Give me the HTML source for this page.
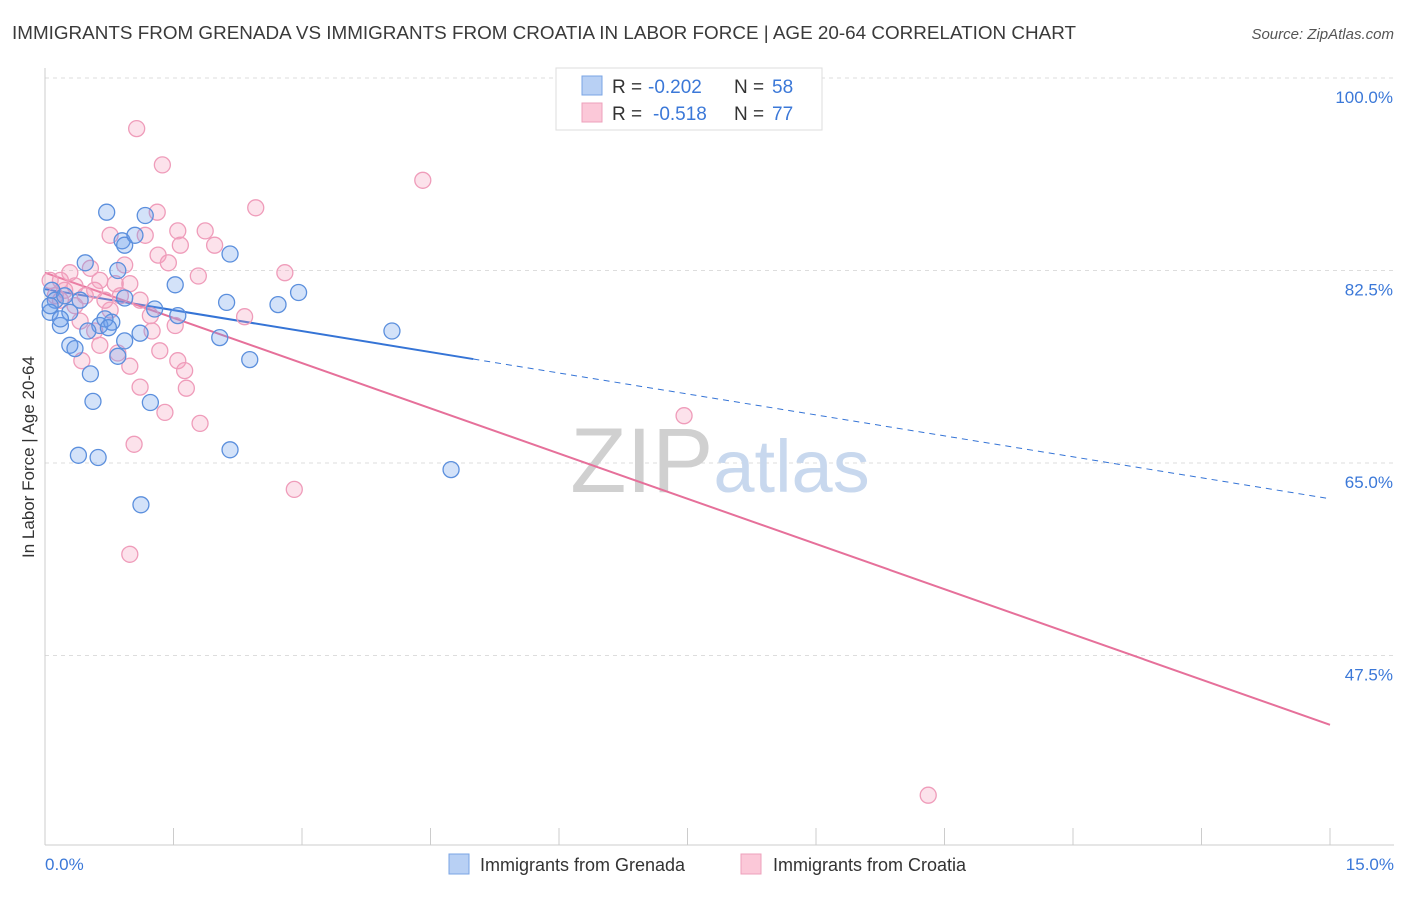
<!DOCTYPE html>
<html><head><meta charset="utf-8"><style>
body{margin:0;background:#fff;font-family:"Liberation Sans",sans-serif;}
svg text{font-family:"Liberation Sans",sans-serif;}
</style></head><body>
<svg id="chart" width="1406" height="892" xmlns="http://www.w3.org/2000/svg">
<text x="12" y="39" font-size="18.5" fill="#3a3a3a" textLength="1064" lengthAdjust="spacingAndGlyphs">IMMIGRANTS FROM GRENADA VS IMMIGRANTS FROM CROATIA IN LABOR FORCE | AGE 20-64 CORRELATION CHART</text>
<text x="1394" y="39" font-size="15" fill="#555" font-style="italic" text-anchor="end">Source: ZipAtlas.com</text>
<g id="grid"></g>
<text x="720" y="492" font-size="92" text-anchor="middle" fill="#d8d8d8" font-family="Liberation Serif"><tspan fill="#d0d0d0">ZIP</tspan><tspan fill="#c8d8ee" font-family="Liberation Sans" font-size="74">atlas</tspan></text>
<line x1="45" y1="68" x2="45" y2="845" stroke="#ccc"/>
<line x1="45" y1="845" x2="1394" y2="845" stroke="#ccc"/>
<g id="ticks"></g>
<g id="lines"></g>
<g id="points"></g>
<text transform="translate(34,457) rotate(-90)" font-size="17" fill="#333" text-anchor="middle">In Labor Force | Age 20-64</text>
<text x="45" y="870" font-size="17" fill="#3b78d8">0.0%</text>
<text x="1394" y="870" font-size="17" fill="#3b78d8" text-anchor="end">15.0%</text>
<g>
<rect x="556" y="68" width="266" height="62" fill="#fff" stroke="#ddd"/>
<rect x="582" y="76" width="20" height="19" fill="#b8d0f4" stroke="#7aa4e4"/>
<rect x="582" y="103" width="20" height="19" fill="#fbc8d8" stroke="#eea0bb"/>
<text x="612" y="93" font-size="19" fill="#333">R =</text>
<text x="648" y="93" font-size="19" fill="#3b78d8">-0.202</text>
<text x="734" y="93" font-size="19" fill="#333">N =</text>
<text x="772" y="93" font-size="19" fill="#3b78d8">58</text>
<text x="612" y="120" font-size="19" fill="#333">R =</text>
<text x="653" y="120" font-size="19" fill="#3b78d8">-0.518</text>
<text x="734" y="120" font-size="19" fill="#333">N =</text>
<text x="772" y="120" font-size="19" fill="#3b78d8">77</text>
</g>
<g>
<rect x="449" y="854" width="20" height="20" fill="#b8d0f4" stroke="#7aa4e4"/>
<text x="480" y="871" font-size="18" fill="#333">Immigrants from Grenada</text>
<rect x="741" y="854" width="20" height="20" fill="#fbc8d8" stroke="#eea0bb"/>
<text x="773" y="871" font-size="18" fill="#333">Immigrants from Croatia</text>
</g>
</svg>
<script>
const yTicks=[100,82.5,65,47.5];
const grenadaX=[0.72,1.17,0.90,0.93,1.05,2.16,0.47,0.85,1.52,0.08,0.12,0.41,0.93,1.28,2.12,2.72,2.96,0.06,0.29,0.18,0.64,0.78,1.11,1.55,2.04,4.05,0.29,0.35,0.85,0.93,2.39,0.53,0.56,1.23,2.16,0.39,0.62,4.74,1.12,0.06,0.23,0.18,0.50,0.70,0.74];
const grenadaY=[87.8,87.5,85.2,84.8,85.7,84.0,83.2,82.5,81.2,80.7,79.8,79.8,80.0,79.0,79.6,79.4,80.5,78.7,78.7,77.5,77.5,77.8,76.8,78.4,76.4,77.0,75.7,75.4,74.7,76.1,74.4,73.1,70.6,70.5,66.2,65.7,65.5,64.4,61.2,79.3,80.2,78.1,77.0,78.1,77.3];
const croatiaX=[1.07,1.37,4.41,2.46,1.31,1.17,0.76,1.55,1.87,1.98,1.58,1.32,1.44,0.93,1.79,2.80,0.53,0.29,0.18,0.82,0.99,0.64,1.11,0.47,0.12,0.35,0.76,1.23,1.52,2.33,1.25,0.58,1.34,0.85,1.55,1.63,0.99,0.43,1.11,1.65,1.40,1.81,7.46,1.04,2.91,0.99,10.31,0.06,0.23,0.58,0.88,0.70,0.41,0.64,0.18,0.35];
const croatiaY=[95.4,92.1,90.7,88.2,87.8,85.7,85.7,86.1,86.1,84.8,84.8,83.9,83.2,83.0,82.0,82.3,82.7,82.3,81.6,81.3,81.3,81.6,79.8,80.2,80.2,79.3,78.9,78.4,77.5,78.3,77.0,77.0,75.2,75.0,74.3,73.4,73.8,74.3,71.9,71.8,69.6,68.6,69.3,66.7,62.6,56.7,34.8,81.6,80.7,80.7,80.2,79.8,77.9,75.7,79.8,81.1];
const grenadaFit=[80.8,-1.27,5.0];
const croatiaFit=[82.3,-2.74,15];
const X0=45,X1=1330,xs=v=>X0+v/15*(X1-X0);
const ys=v=>78+(100-v)*(192.5/17.5);
const NS="http://www.w3.org/2000/svg";
function mk(t,a,p){const e=document.createElementNS(NS,t);for(const k in a)e.setAttribute(k,a[k]);p.appendChild(e);return e;}
const grid=document.getElementById('grid');
yTicks.forEach(v=>{
 const l=mk('line',{x1:45,x2:1394,y1:ys(v),y2:ys(v),stroke:'#ddd','stroke-dasharray':'4,4'},grid);
 
 
 const t=mk('text',{x:1393,y:ys(v)+25,'font-size':17,fill:'#3b78d8','text-anchor':'end'},grid);
 t.textContent=v.toFixed(1)+'%';
 
 
});
const tk=document.getElementById('ticks');
for(let i=0;i<=10;i++){
 const l=mk('line',{x1:xs(i*1.5),x2:xs(i*1.5),y1:828,y2:845,stroke:'#ccc'},tk);
 
 
}
const lg=document.getElementById('lines');
function fit(f,col,name){
 const a=mk('line',{x1:xs(0),y1:ys(f[0]),x2:xs(f[2]),y2:ys(f[0]+f[1]*f[2]),stroke:col,'stroke-width':2},lg);
 
 
 if(f[2]<15){
  const b=mk('line',{x1:xs(f[2]),y1:ys(f[0]+f[1]*f[2]),x2:xs(15),y2:ys(f[0]+f[1]*15),stroke:col,'stroke-width':1,'stroke-dasharray':'6,5'},lg);
  
  
 }
}
const pg=document.getElementById('points');
function pts(X,Y,fill,stroke,name){
 X.forEach((x,i)=>{
  const c=mk('circle',{cx:xs(x),cy:ys(Y[i]),r:8,fill:fill,stroke:stroke,'stroke-width':1.3},pg);
  
  
 });
}
pts(croatiaX,croatiaY,'rgba(246,160,190,0.3)','#ef9cba','croatia-point');
pts(grenadaX,grenadaY,'rgba(110,160,235,0.3)','#5b8fdd','grenada-point');
fit(grenadaFit,'#3574d6','grenada-trend-line');
fit(croatiaFit,'#e6709a','croatia-trend-line');
</script>
</body></html>
